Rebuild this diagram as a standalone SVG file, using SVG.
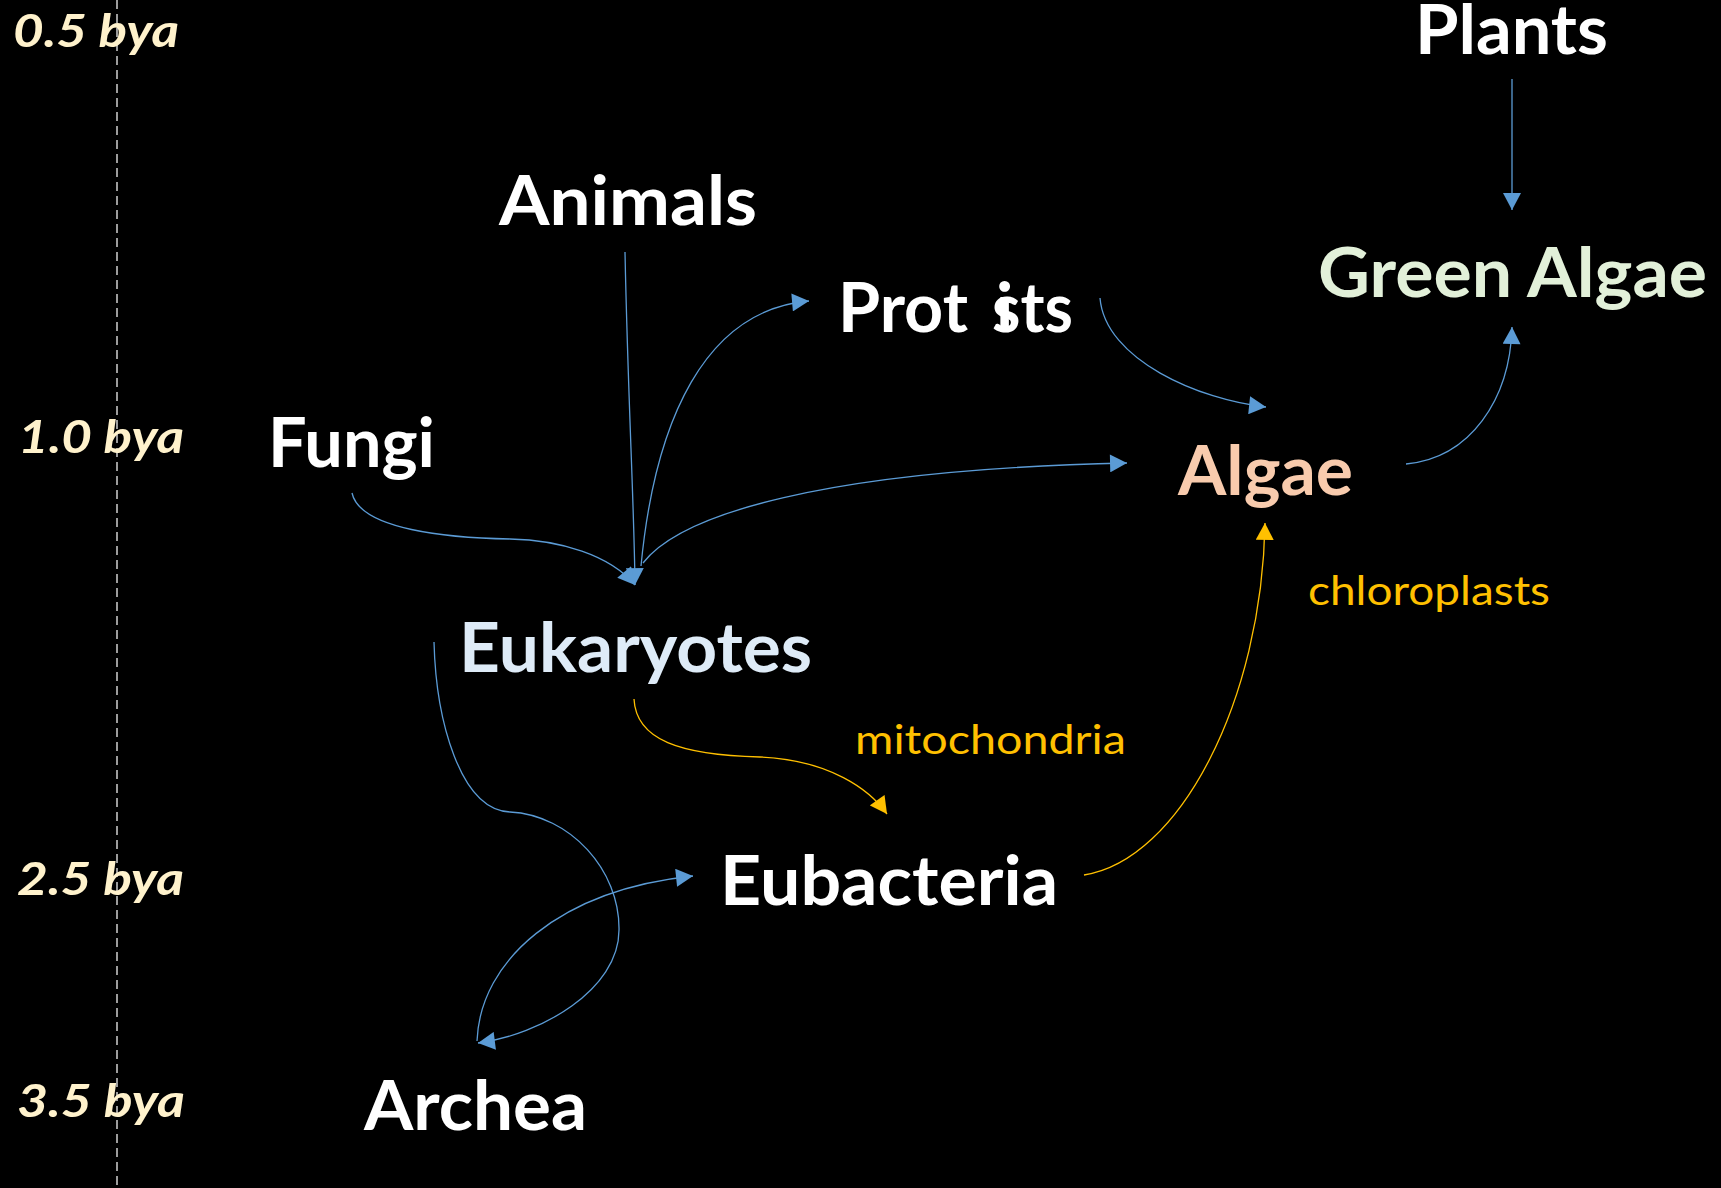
<svg xmlns="http://www.w3.org/2000/svg" width="1721" height="1188" viewBox="0 0 1721 1188">
<style>
.node{font-family:Lato,"Open Sans","Liberation Sans",sans-serif;font-weight:bold;font-size:68px;fill:#FFFFFF}
.lbl{font-family:Lato,"Open Sans","Liberation Sans",sans-serif;font-size:40px;fill:#FFC000}
.bya{font-family:Lato,"Open Sans","Liberation Sans",sans-serif;font-weight:bold;font-style:italic;font-size:46px;fill:#FFF2CC}
.b{fill:none;stroke:#5B9BD5;stroke-width:1.3;marker-end:url(#ab)}
.y{fill:none;stroke:#FFC000;stroke-width:1.3;marker-end:url(#ay)}
</style>
<defs>
<marker id="ab" markerUnits="userSpaceOnUse" markerWidth="18" markerHeight="18" viewBox="0 0 16 17" refX="16" refY="8.5" orient="auto">
<path d="M0,0 L16,8.5 L0,17 z" fill="#5B9BD5"/>
</marker>
<marker id="ay" markerUnits="userSpaceOnUse" markerWidth="18" markerHeight="18" viewBox="0 0 16 17" refX="16" refY="8.5" orient="auto">
<path d="M0,0 L16,8.5 L0,17 z" fill="#FFC000"/>
</marker>
</defs>
<rect x="0" y="0" width="1721" height="1188" fill="#000000"/>
<g id="timeline">
<line x1="117" y1="0" x2="117" y2="1188" stroke="#D0D0D0" stroke-width="1.5" stroke-dasharray="9 5"/>
<text class="bya" x="13" y="47" textLength="166" lengthAdjust="spacingAndGlyphs">0.5 bya</text>
<text class="bya" x="18" y="453" textLength="166" lengthAdjust="spacingAndGlyphs">1.0 bya</text>
<text class="bya" x="17" y="895" textLength="167" lengthAdjust="spacingAndGlyphs">2.5 bya</text>
<text class="bya" x="17" y="1117" textLength="168" lengthAdjust="spacingAndGlyphs">3.5 bya</text>
</g>
<g id="connectors">
<path class="b" d="M1512,79 L1512,210"/>
<path class="b" d="M1406,464 C1470,458 1510,400 1512,327"/>
<path class="b" d="M1100,298 C1105,360 1200,400 1266,407"/>
<path class="b" d="M625,252 C628,400 634,500 635,585"/>
<path class="b" d="M352,493 C360,530 450,538 510,539 C560,540 610,555 635,585"/>
<path class="b" d="M641,566 C655,420 705,310 809,301"/>
<path class="b" d="M643,563 C680,515 820,470 1127,463"/>
<path class="y" d="M634,699 C636,740 680,755 760,757 C830,760 870,790 887,814"/>
<path class="b" d="M434,642 C436,720 460,810 510,812 C570,815 620,870 619,930 C619,990 540,1035 478,1043"/>
<path class="b" d="M477,1041 C480,960 560,890 693,876"/>
<path class="y" d="M1084,875 C1180,860 1262,700 1265,523"/>
</g>
<g id="plants"><text class="node" x="1415" y="54" textLength="193" lengthAdjust="spacingAndGlyphs">Plants</text></g>
<g id="green-algae"><text class="node" x="1318" y="297" textLength="389" lengthAdjust="spacingAndGlyphs" style="fill:#E2F0D9">Green Algae</text></g>
<g id="animals"><text class="node" x="499" y="225" textLength="258" lengthAdjust="spacingAndGlyphs">Animals</text></g>
<g id="protists"><text class="node" y="332"><tspan x="838" textLength="130" lengthAdjust="spacingAndGlyphs">Prot</tspan><tspan x="996">i</tspan><tspan x="992" textLength="81" lengthAdjust="spacingAndGlyphs">sts</tspan></text></g>
<g id="fungi"><text class="node" x="268" y="467" textLength="167" lengthAdjust="spacingAndGlyphs">Fungi</text></g>
<g id="algae"><text class="node" x="1178" y="495" textLength="175" lengthAdjust="spacingAndGlyphs" style="fill:#F8CBAD">Algae</text></g>
<g id="eukaryotes"><text class="node" x="459" y="672" textLength="353" lengthAdjust="spacingAndGlyphs" style="fill:#DEEBF7">Eukaryotes</text></g>
<g id="eubacteria"><text class="node" x="720" y="905" textLength="338" lengthAdjust="spacingAndGlyphs">Eubacteria</text></g>
<g id="archea"><text class="node" x="364" y="1130" textLength="223" lengthAdjust="spacingAndGlyphs">Archea</text></g>
<g id="mitochondria"><text class="lbl" x="855" y="754" textLength="271" lengthAdjust="spacingAndGlyphs">mitochondria</text></g>
<g id="chloroplasts"><text class="lbl" x="1308" y="605" textLength="242" lengthAdjust="spacingAndGlyphs">chloroplasts</text></g>
</svg>
